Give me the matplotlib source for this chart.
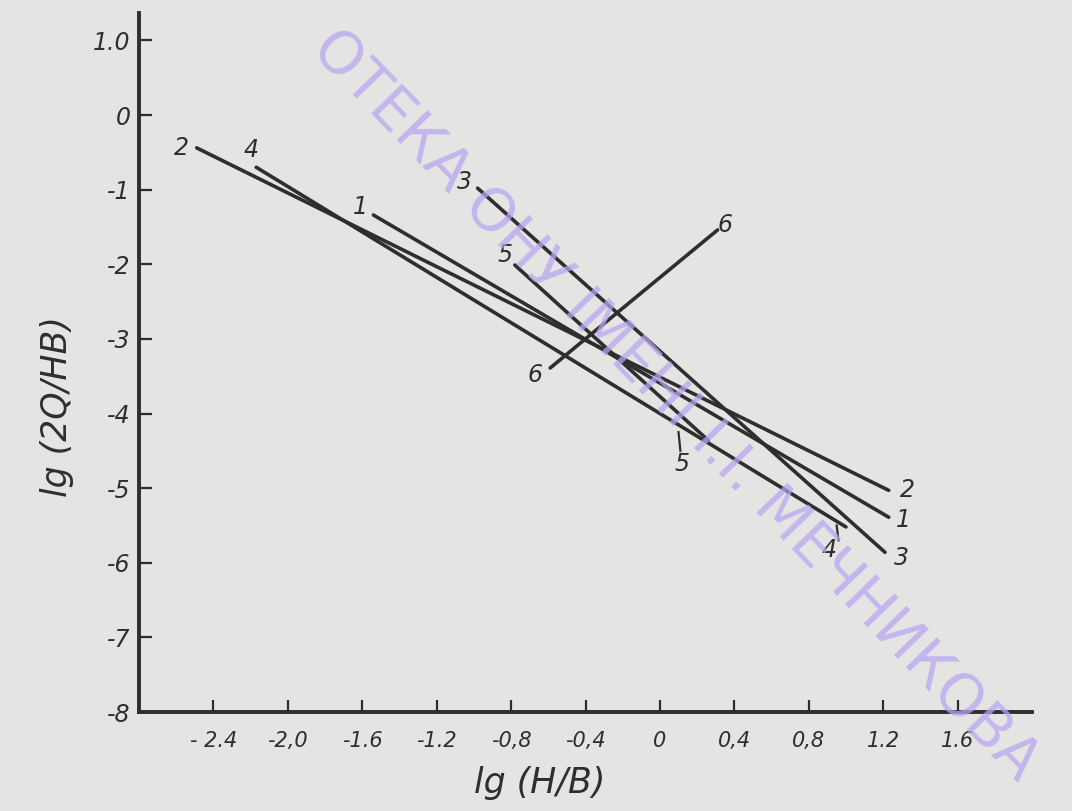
#!/usr/bin/env python3

import matplotlib.pyplot as plt
import numpy as np

# line endpoints: lg(H/B) -> lg(2Q/HB)
line_names = ["1", "2", "3", "4", "5", "6"]
x_start = [-1.54, -2.49, -0.98, -2.17, -0.78, -0.59]
y_start = [-1.34, -0.44, -0.98, -0.70, -2.01, -3.39]
x_end   = [ 1.23,  1.23,  1.21,  1.00,  0.26,  0.31]
y_end   = [-5.39, -5.03, -5.86, -5.52, -4.36, -1.54]

# where the hand-written numbers sit next to the lines
label_text = ["2", "4", "1", "3", "5", "6", "6", "5", "2", "1", "3", "4"]
label_x = [-2.57, -2.20, -1.61, -1.05, -0.83, -0.67, 0.35, 0.12, 1.33, 1.31, 1.30, 0.91]
label_y = [-0.44, -0.47, -1.23, -0.90, -1.88, -3.49, -1.47, -4.67, -5.03, -5.43, -5.93, -5.83]

x_ticks = [-2.4, -2.0, -1.6, -1.2, -0.8, -0.4, 0, 0.4, 0.8, 1.2, 1.6]
x_tick_labels = ["- 2.4", "-2,0", "-1.6", "-1.2", "-0,8", "-0,4", "0", "0,4", "0,8", "1.2", "1.6"]
y_ticks = [1.0, 0, -1, -2, -3, -4, -5, -6, -7, -8]
y_tick_labels = ["1.0", "0", "-1", "-2", "-3", "-4", "-5", "-6", "-7", "-8"]

ink = "#2e2e2e"
paper = "#e4e4e2"
hand = dict(family="DejaVu Sans", style="italic", color=ink)

W, H = 1072, 811
px = 1 / 100
fig = plt.figure(figsize=(W * px, H * px), dpi=100, facecolor=paper)

# library watermark running across the scan
fig.text(0.63, 0.50, "ОТЕКА ОНУ ІМЕНІ І.І. МЕЧНИКОВА", fontsize=42, color="#b9a6f2",
         alpha=0.75, rotation=-46, ha="center", va="center", family="DejaVu Sans", zorder=0)

# axes box placed so that data units land on the scan's pixels
left, right, top, bottom = 139, 1032, 13, 712
ax = fig.add_axes([left / W, (H - bottom) / H, (right - left) / W, (bottom - top) / H])
ax.set_facecolor("none")
ax.set_xlim(-2.8, (right - 660) / 186)
ax.set_ylim(-8, (115 - top) / 74.6)

for i in range(len(line_names)):
    ax.plot([x_start[i], x_end[i]], [y_start[i], y_end[i]], color=ink, linewidth=2.6,
            solid_capstyle="round")

for t, x, y in zip(label_text, label_x, label_y):
    ax.text(x, y, t, fontsize=17, ha="center", va="center", **hand)

# short leader strokes under the lower "5" and "4"
ax.plot([0.10, 0.11], [-4.25, -4.50], color=ink, linewidth=1.6)
ax.plot([0.95, 0.96], [-5.50, -5.70], color=ink, linewidth=1.6)

for s in ["top", "right"]:
    ax.spines[s].set_visible(False)
for s in ["left", "bottom"]:
    ax.spines[s].set_linewidth(2.8)
    ax.spines[s].set_color(ink)

ax.set_xticks(x_ticks)
ax.set_xticklabels(x_tick_labels, fontsize=15, **hand)
ax.set_yticks(y_ticks)
ax.set_yticklabels(y_tick_labels, fontsize=17, **hand)
ax.tick_params(direction="in", length=9, width=1.6, color=ink)
ax.tick_params(axis="x", pad=14)
ax.tick_params(axis="y", pad=6)

fig.text(540 / W, 1 - 783 / H, "lg (H/B)", fontsize=25, ha="center", va="center", **hand)
fig.text(57 / W, 1 - 407 / H, "lg (2Q/HB)", fontsize=25, ha="center", va="center",
         rotation=90, **hand)

plt.savefig("out.png", dpi=100, facecolor=paper)
